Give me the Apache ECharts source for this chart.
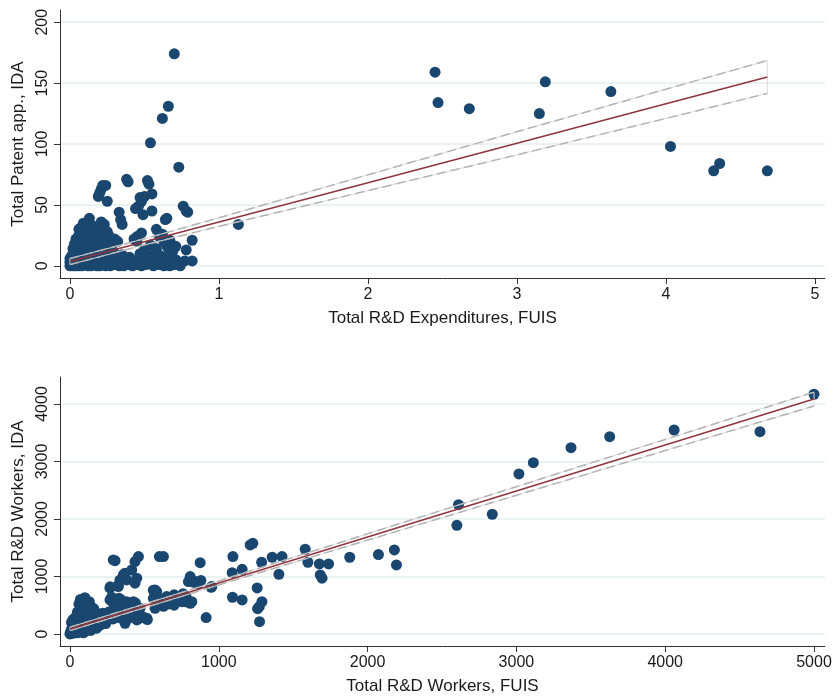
<!DOCTYPE html>
<html>
<head>
<meta charset="utf-8">
<script src="https://cdn.jsdelivr.net/npm/echarts@6/dist/echarts.min.js"></script>
<style>
html, body { margin: 0; padding: 0; background: #fff; }
#chart { width: 836px; height: 700px; }
</style>
</head>
<body>
<div id="chart"></div>
<script>
// ---- data ----
// top panel: R&D expenditures (FUIS) vs patent applications (IDA)
const patentPts = [
  [0.70,174],[0.66,131],[0.62,121],[0.54,101],[0.73,81],[0.38,71],[0.52,70],[0.53,67],[0.39,69],[0.22,66],
  [0.24,66],[0.21,63],[0.19,57],[0.20,60],[0.25,53],[0.50,57],[0.55,59],[0.48,53],[0.47,56],[0.46,49],
  [0.44,47],[0.55,45],[0.49,42],[0.76,49],[0.78,45],[0.79,44],[0.33,44],[0.34,38],[0.35,34],[0.65,39],
  [0.64,38],[0.58,30],[0.21,36],[0.13,39],[0.08,31],[0.07,31],[0.25,28],[0.48,27],[0.32,20],[0.45,24],
  [0.67,21],[0.82,21],[0.65,16],[0.71,16],[0.78,13],[0.77,4],[0.82,4],[0.71,5],[0.65,2],[0.58,14],
  [0.54,6],[0.47,10],[0.41,5],[0.34,6],[0.27,8],[0.20,10],[1.13,34],
  [0.43,22],[0.45,20],[0.54,17],[0.58,11],[0.63,20],[0.66,18],[0.68,14],[0.62,26],[0.60,24],[0.50,13],[0.56,9],
  [0.00,0],[0.01,1],[0.02,0],[0.03,2],[0.04,0],[0.05,1],[0.06,0],[0.08,0],[0.10,1],[0.12,0],
  [0.14,0],[0.16,1],[0.18,0],[0.20,0],[0.22,1],[0.24,0],[0.27,0],[0.30,1],[0.33,0],[0.36,0],
  [0.39,1],[0.42,0],[0.45,1],[0.48,0],[0.51,1],[0.56,0],[0.60,1],[0.63,0],[0.67,0],[0.70,1],[0.74,0],
  [0.01,4],[0.02,6],[0.03,3],[0.04,8],[0.05,5],[0.06,10],[0.07,3],[0.08,7],[0.09,12],[0.10,5],
  [0.11,9],[0.12,14],[0.13,4],[0.14,8],[0.15,12],[0.16,5],[0.17,16],[0.18,9],[0.19,4],[0.20,14],
  [0.21,7],[0.22,3],[0.23,11],[0.24,5],[0.25,16],[0.26,9],[0.28,4],[0.29,12],[0.31,6],[0.33,3],
  [0.35,9],[0.37,4],[0.40,7],[0.43,3],[0.46,5],[0.49,3],[0.52,8],[0.55,3],[0.58,5],[0.61,8],
  [0.62,4],[0.66,9],[0.68,5],[0.69,12],[0.72,3],
  [0.02,14],[0.03,18],[0.04,22],[0.05,16],[0.06,25],[0.07,20],[0.08,15],[0.09,27],[0.10,22],[0.11,18],
  [0.12,30],[0.13,24],[0.14,19],[0.15,33],[0.16,27],[0.17,22],[0.18,30],[0.19,25],[0.20,33],[0.21,20],
  [0.22,27],[0.23,34],[0.24,22],[0.26,25],[0.28,18],[0.30,22],[0.06,30],[0.11,34],[0.09,35],[0.03,10],
  [0.01,8],[0.02,2],[0.00,3],[0.00,6],
  [2.45,159],[2.47,134],[2.68,129],[3.19,151],[3.15,125],[3.63,143],[4.03,98],[4.36,84],[4.32,78],[4.68,78]
];
const patentFitX = [0, 0.5, 1, 2, 3, 4, 4.68];
const patentFit = [3.5, 19.7, 35.9, 68.2, 100.6, 133, 155];
const patentHi = [6, 22.2, 39.4, 74.7, 110.1, 145, 168.5];
const patentLo = [1, 17.2, 32.4, 61.7, 91.1, 121, 141.5];
const patentTicksX = [0, 1, 2, 3, 4, 5];
const patentTicksY = [0, 50, 100, 150, 200];

// bottom panel: R&D workers FUIS vs IDA
const workerPts = [
  [5000,4170],[4060,3548],[4637,3518],[3627,3431],[3367,3240],[3114,2979],[3017,2783],[2611,2249],[2600,1890],[2838,2082],
  [1211,1548],[1229,1577],[1095,1345],[875,1240],[1157,1125],[1090,1066],[1288,1247],[1359,1334],[1425,1345],[1404,1038],
  [1581,1473],[1599,1247],[1676,1217],[1738,1217],[1682,1026],[1694,969],[1880,1334],[2073,1380],[2180,1461],[2194,1200],
  [808,997],[841,910],[796,910],[949,812],[774,562],[819,562],[915,284],[1092,638],[1157,591],[1258,800],
  [1290,562],[1272,475],[1261,440],[1274,214],
  [601,1345],[628,1345],[460,1345],[437,1258],[291,1287],[303,1275],[415,1113],[359,1026],[269,795],[325,823],
  [583,736],[852,882],[953,823],[101,591],[79,475],[752,562],[808,533],[673,533],[695,591],[572,446],
  [516,273],[449,243],[370,186],
  [336,939],[381,939],[437,882],[449,969],[370,1056],[325,852],[269,591],[291,533],[325,475],[359,533],
  [426,562],[572,765],[583,649],[628,480],[660,520],[700,500],[471,446],
  [0,0],[5,40],[10,80],[15,20],[20,130],[25,60],[30,180],[35,100],[40,30],[45,220],
  [50,150],[55,70],[60,260],[65,190],[70,110],[75,300],[80,40],[85,230],[90,150],[95,340],
  [100,270],[105,190],[110,100],[115,380],[120,310],[125,220],[130,140],[140,350],[145,260],[150,180],
  [160,300],[165,220],[170,380],[180,260],[190,330],[200,240],[210,300],[220,360],[230,270],[240,330],
  [250,230],[260,380],[270,300],[280,340],[290,260],[300,370],[310,290],[320,330],[340,280],[350,360],
  [360,310],[380,250],[390,330],[400,380],[420,290],[440,350],[460,260],[480,310],[500,280],[520,250],
  [60,520],[70,600],[80,560],[90,480],[100,630],[110,520],[120,450],[130,560],[75,420],[95,420],
  [140,480],[150,420],[160,440],
  [20,10],[30,50],[50,20],[70,60],[90,20],[100,40],[120,80],[140,60],[160,120],[180,100],
  [200,150],[220,200],[240,180],[180,180],[130,300],[60,350],[40,300],[20,250],[10,200],[50,380],[30,120],
  [300,450],[320,520],[340,600],[280,640],[270,820],[330,620],[380,560],[400,480],[420,420],[440,540],[360,420],
  [560,620],[590,580],[620,560],[650,650],[680,620],[700,680],[720,600],[760,700],[780,650],[800,560],
  [830,900],[860,870],[880,930],[600,520],[640,520],[560,760]
];
const workerFitX = [0, 1000, 2000, 3000, 4000, 5000];
const workerFit = [87, 887, 1687, 2487, 3287, 4087];
const workerHi = [117, 922, 1742, 2562, 3384, 4207];
const workerLo = [57, 852, 1632, 2412, 3190, 3967];
const workerTicksX = [0, 1000, 2000, 3000, 4000, 5000];
const workerTicksY = [0, 1000, 2000, 3000, 4000];

// ---- chart ----
const navy = '#1a476f';
const maroon = '#90353b';
const gridCol = '#eaf2f3';
const font = 'Liberation Sans, Arial, sans-serif';

function pairs(xs, ys) {
  return xs.map((x, i) => [x, ys[i]])
}
// band outline: upper edge then lower edge back, closed at both ends
function outline(xs, hi, lo) {
  const up = xs.map((x, i) => [x, hi[i]])
  const down = xs.map((x, i) => [x, lo[i]]).reverse()
  return up.concat(down, [up[0]])
}

function makeAxis(gridIndex, min, max, ticks, name, nameGap, isY) {
  return {
    type: 'value',
    gridIndex: gridIndex,
    min: min,
    max: max,
    name: name,
    nameLocation: 'middle',
    nameGap: nameGap,
    nameTextStyle: { fontFamily: font, fontSize: 17, color: '#1a1a1a' },
    axisLine: { show: true, onZero: false, lineStyle: { color: '#333', width: 1 } },
    axisTick: { show: true, length: 6, customValues: ticks, lineStyle: { color: '#333' } },
    axisLabel: {
      customValues: ticks,
      formatter: v => String(v), // no thousands separator
      fontFamily: font,
      fontSize: 16,
      color: '#1a1a1a',
      rotate: isY ? 90 : 0,
      margin: 9
    },
    splitLine: { show: isY, lineStyle: { color: gridCol, width: 2 } }
  }
}

function fitSeries(idx, xs, fit, hi, lo) {
  return [
    {
      type: 'line', xAxisIndex: idx, yAxisIndex: idx, data: outline(xs, hi, lo),
      symbol: 'none', silent: true, z: 3,
      lineStyle: { color: '#dadada', width: 1 }
    },
    {
      type: 'line', xAxisIndex: idx, yAxisIndex: idx, data: pairs(xs, hi),
      symbol: 'none', silent: true, z: 4,
      lineStyle: { color: '#b4b4b4', width: 1.5, type: [9, 5] }
    },
    {
      type: 'line', xAxisIndex: idx, yAxisIndex: idx, data: pairs(xs, lo),
      symbol: 'none', silent: true, z: 4,
      lineStyle: { color: '#b4b4b4', width: 1.5, type: [9, 5] }
    },
    {
      type: 'line', xAxisIndex: idx, yAxisIndex: idx, data: pairs(xs, fit),
      symbol: 'none', silent: true, z: 5,
      lineStyle: { color: maroon, width: 1.5 }
    }
  ]
}

const chart = echarts.init(document.getElementById('chart'), null, { renderer: 'canvas' })
chart.setOption({
  animation: false,
  backgroundColor: '#fff',
  grid: [
    { left: 60, right: 11, top: 10, height: 268 },
    { left: 60, right: 11, top: 377, height: 269 }
  ],
  xAxis: [
    makeAxis(0, -0.067, 5.067, patentTicksX, 'Total R&D Expenditures, FUIS', 32, false),
    makeAxis(1, -67, 5074, workerTicksX, 'Total R&D Workers, FUIS', 32, false)
  ],
  yAxis: [
    makeAxis(0, -10, 210, patentTicksY, 'Total Patent app., IDA', 28, true),
    makeAxis(1, -210, 4470, workerTicksY, 'Total R&D Workers, IDA', 28, true)
  ],
  series: [
    {
      type: 'scatter', xAxisIndex: 0, yAxisIndex: 0, data: patentPts,
      symbolSize: 11, itemStyle: { color: navy, opacity: 1 }, z: 2
    },
    ...fitSeries(0, patentFitX, patentFit, patentHi, patentLo),
    {
      type: 'scatter', xAxisIndex: 1, yAxisIndex: 1, data: workerPts,
      symbolSize: 11, itemStyle: { color: navy, opacity: 1 }, z: 2
    },
    ...fitSeries(1, workerFitX, workerFit, workerHi, workerLo)
  ]
})
</script>
</body>
</html>
